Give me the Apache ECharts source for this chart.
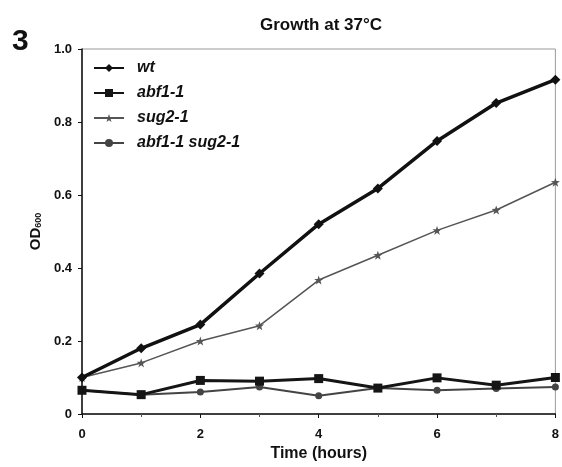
<!DOCTYPE html>
<html>
<head>
<meta charset="utf-8">
<script src="https://cdn.jsdelivr.net/npm/echarts@6/dist/echarts.min.js"></script>
<style>
  html, body { margin: 0; padding: 0; background: #fff; }
  #chart { width: 562px; height: 467px; }
</style>
</head>
<body>
<div id="chart"></div>
<script>
var hours = [0, 1, 2, 3, 4, 5, 6, 7, 8];
var wt = [0.10, 0.18, 0.245, 0.385, 0.52, 0.618, 0.748, 0.852, 0.916];
var abf1 = [0.065, 0.053, 0.092, 0.09, 0.097, 0.071, 0.099, 0.079, 0.10];
var sug2 = [0.10, 0.14, 0.20, 0.242, 0.367, 0.435, 0.503, 0.559, 0.635];
var abf1sug2 = [0.065, 0.053, 0.06, 0.074, 0.05, 0.071, 0.065, 0.07, 0.074];
var seriesNames = ["wt", "abf1-1", "sug2-1", "abf1-1 sug2-1"];

var starPath = "path://M0,-10 L2.4,-3.2 L9.5,-3.1 L3.8,1.2 L5.9,8.1 L0,4 L-5.9,8.1 L-3.8,1.2 L-9.5,-3.1 L-2.4,-3.2 Z";

function pairs(vals) {
  return vals.map(function (v, i) { return [hours[i], v]; });
}

var chart = echarts.init(document.getElementById("chart"));

var axisFont = {
  color: "#111",
  fontFamily: "Liberation Sans",
  fontWeight: "bold",
  fontSize: 13
};

var option = {
  animation: false,
  title: {
    text: "Growth at 37°C",
    left: 316,
    top: 12,
    textAlign: "center",
    textStyle: {
      color: "#111",
      fontFamily: "Liberation Sans",
      fontWeight: "bold",
      fontSize: 17
    }
  },
  graphic: [{
    type: "text",
    left: 12,
    top: 27,
    style: {
      text: "3",
      fill: "#111",
      font: "bold 30px 'Liberation Sans'"
    }
  }],
  legend: {
    orient: "vertical",
    left: 88,
    top: 55,
    itemWidth: 30,
    itemHeight: 10,
    itemGap: 9,
    data: seriesNames,
    textStyle: {
      color: "#111",
      fontFamily: "Liberation Sans",
      fontStyle: "italic",
      fontWeight: "bold",
      fontSize: 16,
      padding: [0, 0, 0, 8]
    }
  },
  grid: {
    show: true,
    borderColor: "#999",
    borderWidth: 1,
    left: 82,
    right: 6,
    top: 49,
    bottom: 52
  },
  xAxis: {
    type: "value",
    min: 0,
    max: 8,
    interval: 2,
    name: "Time (hours)",
    nameLocation: "middle",
    nameGap: 32,
    nameTextStyle: {
      color: "#111",
      fontFamily: "Liberation Sans",
      fontWeight: "bold",
      fontSize: 16
    },
    axisLine: { lineStyle: { color: "#111", width: 1.5 } },
    axisTick: { inside: false, length: 4, lineStyle: { color: "#111" } },
    minorTick: { show: true, splitNumber: 2, length: 3, lineStyle: { color: "#555" } },
    axisLabel: Object.assign({ margin: 14 }, axisFont),
    splitLine: { show: false }
  },
  yAxis: {
    type: "value",
    min: 0,
    max: 1,
    interval: 0.2,
    name: "{od|OD}{sub|600}",
    nameLocation: "middle",
    nameGap: 36,
    nameTextStyle: {
      rich: {
        od: {
          color: "#111",
          fontFamily: "Liberation Sans",
          fontWeight: "bold",
          fontSize: 15
        },
        sub: {
          color: "#111",
          fontFamily: "Liberation Sans",
          fontWeight: "bold",
          fontSize: 9,
          verticalAlign: "bottom",
          padding: [6, 0, 0, 0]
        }
      }
    },
    axisLine: { show: true, lineStyle: { color: "#111", width: 1.5 } },
    axisTick: { show: true, inside: false, length: 4, lineStyle: { color: "#111" } },
    axisLabel: Object.assign({
      margin: 10,
      formatter: function (v) { return v === 0 ? "0" : v.toFixed(1); }
    }, axisFont),
    splitLine: { show: false }
  },
  series: [{
    name: seriesNames[0],
    type: "line",
    data: pairs(wt),
    symbol: "diamond",
    symbolSize: 10,
    lineStyle: { color: "#111", width: 3.5 },
    itemStyle: { color: "#111" },
    z: 4
  }, {
    name: seriesNames[1],
    type: "line",
    data: pairs(abf1),
    symbol: "rect",
    symbolSize: 9,
    lineStyle: { color: "#151515", width: 3 },
    itemStyle: { color: "#151515" },
    z: 4
  }, {
    name: seriesNames[2],
    type: "line",
    data: pairs(sug2),
    symbol: starPath,
    symbolSize: 9,
    lineStyle: { color: "#555", width: 1.5 },
    itemStyle: { color: "#555" },
    z: 3
  }, {
    name: seriesNames[3],
    type: "line",
    data: pairs(abf1sug2),
    symbol: "circle",
    symbolSize: 7,
    lineStyle: { color: "#444", width: 2 },
    itemStyle: { color: "#444" },
    z: 3
  }]
};

chart.setOption(option);
</script>
</body>
</html>
